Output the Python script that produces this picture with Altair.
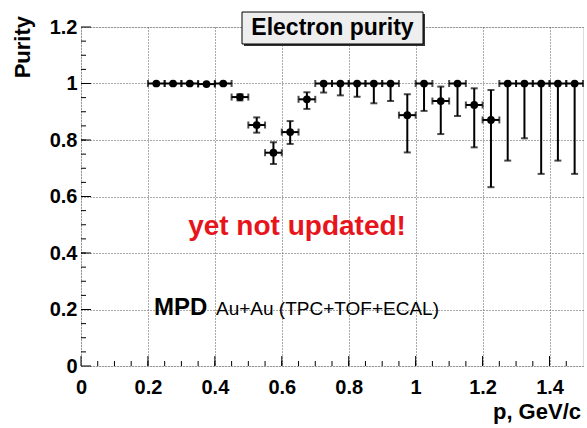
import altair as alt
import pandas as pd

# ---- data ----
p_center = [0.225, 0.275, 0.325, 0.375, 0.425, 0.475, 0.525, 0.575, 0.625, 0.675,
            0.725, 0.775, 0.825, 0.875, 0.925, 0.975, 1.025, 1.075, 1.125, 1.175,
            1.225, 1.275, 1.325, 1.375, 1.425, 1.475]
purity = [1.0, 1.0, 1.0, 0.998, 1.0, 0.952, 0.853, 0.755, 0.828, 0.944,
          1.0, 1.0, 1.0, 1.0, 1.0, 0.888, 1.0, 0.938, 1.0, 0.924,
          0.871, 1.0, 1.0, 1.0, 1.0, 1.0]
err_lo = [0.996, 0.996, 0.996, 0.994, 0.996, 0.940, 0.826, 0.715, 0.786, 0.910,
          0.968, 0.958, 0.953, 0.930, 0.938, 0.756, 0.903, 0.821, 0.885, 0.774,
          0.633, 0.727, 0.806, 0.680, 0.727, 0.680]
err_hi = [1.0, 1.0, 1.0, 1.0, 1.0, 0.962, 0.880, 0.792, 0.867, 0.969,
          1.0, 1.0, 1.0, 1.0, 1.0, 0.962, 1.0, 0.989, 1.0, 0.983,
          0.977, 1.0, 1.0, 1.0, 1.0, 1.0]
half_bin = 0.025

x_major = [0, 0.2, 0.4, 0.6, 0.8, 1.0, 1.2, 1.4]
y_major = [0, 0.2, 0.4, 0.6, 0.8, 1.0, 1.2]
x_minor = [round(i * 0.05, 2) for i in range(1, 30)]
y_minor = [round(i * 0.05, 2) for i in range(1, 24)]

df = pd.DataFrame({
    "p": p_center,
    "purity": purity,
    "lo": err_lo,
    "hi": err_hi,
})
df["plo"] = df["p"] - half_bin
df["phi"] = df["p"] + half_bin

W, H = 502, 339
FONT = "Liberation Sans"

xs = alt.Scale(domain=[0, 1.5], nice=False, zero=False)
ys = alt.Scale(domain=[0, 1.2], nice=False, zero=False)

base = alt.Chart(df)

xaxis = alt.Axis(values=x_major, format="~g", title=None, grid=True, gridDash=[1, 2],
                 gridColor="#555", gridWidth=1, ticks=False, domain=False,
                 labelFont=FONT, labelFontSize=20, labelFontWeight="bold", labelColor="black",
                 labelPadding=11, labelFlush=False, labelOverlap=False)
yaxis = alt.Axis(values=y_major, format="~g", title=None, grid=True, gridDash=[1, 2],
                 gridColor="#555", gridWidth=1, ticks=False, domain=False,
                 labelFont=FONT, labelFontSize=20, labelFontWeight="bold", labelColor="black",
                 labelPadding=4, labelFlush=False, labelOverlap=False)

axes_layer = base.mark_point(opacity=0).encode(
    x=alt.X("p:Q", scale=xs, axis=xaxis),
    y=alt.Y("purity:Q", scale=ys, axis=yaxis),
)

# inward ticks
xmaj_df = pd.DataFrame({"v": x_major})
ymaj_df = pd.DataFrame({"v": y_major})
xmin_df = pd.DataFrame({"v": x_minor})
ymin_df = pd.DataFrame({"v": y_minor})

xmaj = alt.Chart(xmaj_df).mark_rule(color="black", strokeWidth=1).encode(
    x=alt.X("v:Q", scale=xs), y=alt.value(H), y2=alt.value(H - 10))
xmin = alt.Chart(xmin_df).mark_rule(color="black", strokeWidth=1).encode(
    x=alt.X("v:Q", scale=xs), y=alt.value(H), y2=alt.value(H - 5))
ymaj = alt.Chart(ymaj_df).mark_rule(color="black", strokeWidth=1).encode(
    y=alt.Y("v:Q", scale=ys), x=alt.value(0), x2=alt.value(10))
ymin = alt.Chart(ymin_df).mark_rule(color="black", strokeWidth=1).encode(
    y=alt.Y("v:Q", scale=ys), x=alt.value(0), x2=alt.value(5))

# error bars
vbar = base.mark_rule(color="black", strokeWidth=2).encode(
    x=alt.X("p:Q", scale=xs), y=alt.Y("lo:Q", scale=ys), y2="hi:Q")
hbar = base.mark_rule(color="black", strokeWidth=2).encode(
    x=alt.X("plo:Q", scale=xs), x2="phi:Q", y=alt.Y("purity:Q", scale=ys))
cap_lo = base.mark_tick(color="black", orient="horizontal", size=7, thickness=2).encode(
    x=alt.X("p:Q", scale=xs), y=alt.Y("lo:Q", scale=ys))
cap_hi = base.mark_tick(color="black", orient="horizontal", size=7, thickness=2).encode(
    x=alt.X("p:Q", scale=xs), y=alt.Y("hi:Q", scale=ys))
cap_l = base.mark_tick(color="black", orient="vertical", size=7, thickness=2).encode(
    x=alt.X("plo:Q", scale=xs), y=alt.Y("purity:Q", scale=ys))
cap_r = base.mark_tick(color="black", orient="vertical", size=7, thickness=2).encode(
    x=alt.X("phi:Q", scale=xs), y=alt.Y("purity:Q", scale=ys))
pts = base.mark_circle(color="black", size=60, opacity=1).encode(
    x=alt.X("p:Q", scale=xs), y=alt.Y("purity:Q", scale=ys))

anno = alt.Chart(pd.DataFrame({"a": [0]}))

warn = anno.mark_text(text="yet not updated!", font=FONT, fontSize=28, fontWeight="bold",
                      color="#e8141c", align="center", baseline="alphabetic").encode(
    x=alt.value(216), y=alt.value(208))
mpd = anno.mark_text(text="MPD", font=FONT, fontSize=24, fontWeight="bold",
                     color="black", align="left", baseline="alphabetic").encode(
    x=alt.value(73), y=alt.value(288))
sysname = anno.mark_text(text="Au+Au (TPC+TOF+ECAL)", font=FONT, fontSize=19,
                         color="black", align="left", baseline="alphabetic").encode(
    x=alt.value(135), y=alt.value(288))

shadow = anno.mark_rect(color="#333").encode(
    x=alt.value(163), x2=alt.value(344), y=alt.value(-13), y2=alt.value(19))
box = anno.mark_rect(fill="#eeeeee", stroke="black", strokeWidth=1).encode(
    x=alt.value(161), x2=alt.value(342), y=alt.value(-15), y2=alt.value(17))
title = anno.mark_text(text="Electron purity", font=FONT, fontSize=23, fontWeight="bold",
                       color="black", align="center", baseline="middle").encode(
    x=alt.value(251.5), y=alt.value(1))

ytitle = anno.mark_text(text="Purity", font=FONT, fontSize=22, fontWeight="bold", angle=270,
                        color="black", align="right", baseline="alphabetic").encode(
    x=alt.value(-51), y=alt.value(-11))
xtitle = anno.mark_text(text="p, GeV/c", font=FONT, fontSize=22, fontWeight="bold",
                        color="black", align="right", baseline="alphabetic").encode(
    x=alt.value(500), y=alt.value(392))

chart = alt.layer(
    axes_layer, xmaj, xmin, ymaj, ymin,
    hbar, vbar, cap_lo, cap_hi, cap_l, cap_r, pts,
    warn, mpd, sysname, shadow, box, title, ytitle, xtitle,
).properties(
    width=W, height=H,
    autosize=alt.AutoSizeParams(type="none"),
    padding={"left": 81, "top": 27, "right": 4, "bottom": 62},
).configure_view(
    stroke="black", strokeWidth=1.5
).configure(background="white")

chart.save("out.html", embed_options={"renderer": "svg", "actions": False})
